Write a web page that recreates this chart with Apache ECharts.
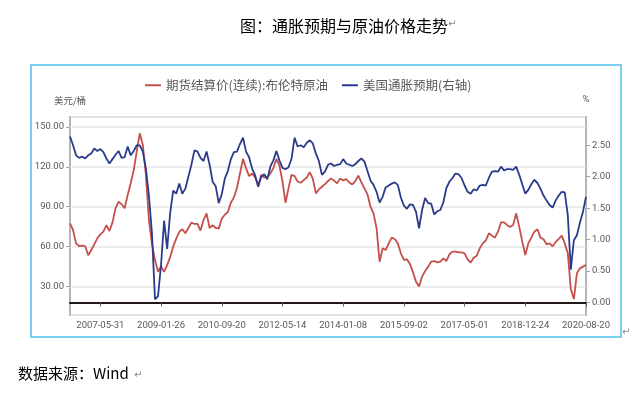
<!DOCTYPE html>
<html>
<head>
<meta charset="utf-8">
<title>通胀预期与原油价格走势</title>
<script src="https://cdn.jsdelivr.net/npm/echarts@6/dist/echarts.min.js"></script>
<style>
    html, body { margin: 0; padding: 0; background: #fff; }
    #main { width: 636px; height: 396px; }
</style>
</head>
<body>
<div id="main"></div>
<script>
// x轴标签：每20个采样点一个，第一个在第10个点
var xLabels = ['2007-05-31', '2009-01-26', '2010-09-20', '2012-05-14', '2014-01-08',
    '2015-09-02', '2017-05-01', '2018-12-24', '2020-08-20'];

// 期货结算价(连续):布伦特原油（美元/桶，左轴）
var brent = [
    77.5, 72.5, 62.4, 60.4, 60.7, 60.4, 53.5, 57.4, 61.7, 66.2,
    69.2, 71.2, 76.2, 71.7, 78.2, 88.8, 93.8, 91.8, 88.8, 98.8,
    107.6, 117.6, 131.9, 145.2, 136.4, 113.9, 80, 62, 50, 41,
    45, 41, 46, 52, 60, 66, 71, 73, 70, 74,
    78, 77, 77, 72, 80, 85, 74, 76, 74, 73.5,
    81, 84, 86, 93, 97, 104, 115, 126, 119, 113,
    115, 112, 106, 114, 112, 112, 115, 119, 126, 121,
    109, 93, 104, 114, 113, 109, 108, 110, 112, 116,
    111, 100, 103, 105, 107, 109.3, 111.3, 109.6, 107.6, 111.3,
    109.8, 110.8, 108.3, 106.8, 109.3, 113.4, 108.3, 103.8, 99.3, 90,
    85, 73.7, 48.6, 58.7, 57.4, 62.4, 66.7, 65.7, 62.4, 54.9,
    49.9, 50.4, 46.9, 40.6, 33.6, 30, 37.4, 41.6, 44.9, 48.6,
    49.1, 48.1, 48.6, 51.1, 49.1, 54.2, 56.2, 56.2, 55.7, 55.7,
    54.9, 50.4, 47.9, 51.6, 53.1, 58.7, 62.4, 64.7, 70, 68.2,
    66.7, 71.2, 78.2, 78.2, 76.2, 74.7, 76.2, 85, 75, 63.7,
    53.7, 62.4, 66.7, 71.2, 73, 66.7, 65.5, 61.7, 62.4, 60.2,
    63.4, 65.7, 68.2, 62.4, 54.9, 28, 20.5, 39.9, 43.6, 44.9, 46.1
];

// 美国通胀预期（%，右轴）
var breakeven = [
    2.64, 2.50, 2.34, 2.30, 2.32, 2.29, 2.34, 2.37, 2.45, 2.41,
    2.44, 2.39, 2.29, 2.21, 2.28, 2.35, 2.41, 2.30, 2.31, 2.48,
    2.34, 2.41, 2.50, 2.50, 2.40, 2.13, 1.70, 1.10, 0.05, 0.10,
    0.60, 1.30, 0.85, 1.42, 1.78, 1.73, 1.89, 1.73, 1.81, 2.00,
    2.19, 2.42, 2.40, 2.30, 2.25, 2.40, 2.19, 1.92, 1.85, 1.58,
    1.72, 1.97, 2.09, 2.28, 2.39, 2.40, 2.52, 2.62, 2.40, 2.31,
    2.13, 2.02, 1.84, 2.00, 2.04, 1.96, 2.16, 2.26, 2.41, 2.26,
    2.14, 2.12, 2.15, 2.29, 2.62, 2.48, 2.50, 2.47, 2.54, 2.58,
    2.53, 2.37, 2.25, 2.03, 2.08, 2.19, 2.21, 2.17, 2.19, 2.20,
    2.28, 2.21, 2.19, 2.17, 2.20, 2.25, 2.29, 2.24, 2.09, 1.94,
    1.87, 1.76, 1.59, 1.68, 1.83, 1.86, 1.89, 1.91, 1.87, 1.67,
    1.54, 1.49, 1.56, 1.55, 1.44, 1.18, 1.47, 1.66, 1.58, 1.57,
    1.40, 1.45, 1.47, 1.59, 1.82, 1.92, 1.98, 2.05, 2.04, 1.98,
    1.86, 1.76, 1.73, 1.80, 1.78, 1.86, 1.87, 1.86, 1.98, 2.08,
    2.09, 2.08, 2.16, 2.10, 2.12, 2.12, 2.11, 2.16, 2.03, 1.88,
    1.73, 1.79, 1.88, 1.95, 1.90, 1.81, 1.70, 1.62, 1.55, 1.51,
    1.62, 1.70, 1.76, 1.75, 1.39, 0.52, 0.99, 1.07, 1.27, 1.44, 1.68
];

var leftTicks = [30, 60, 90, 120, 150];
var rightTicks = [0, 0.5, 1, 1.5, 2, 2.5];

var labelStep = 20, labelStart = 10;
var categories = [];
for (var i = 0; i < brent.length; i++) {
    categories.push(String(i));
}
// 只在标签对应的采样点显示刻度和标签
function isLabelIndex(idx) {
    return idx >= labelStart && (idx - labelStart) % labelStep === 0;
}

var cjk = '"Noto Sans CJK SC", sans-serif';
var num = 'Roboto, sans-serif';
var grey = '#595959';

var myChart = echarts.init(document.getElementById('main'));
myChart.setOption({
    animation: false,
    backgroundColor: '#fff',
    title: {
        text: '图：通胀预期与原油价格走势',
        left: 235,
        top: 13,
        textStyle: { fontFamily: cjk, fontSize: 16, fontWeight: 'normal', color: '#000' }
    },
    legend: {
        left: 140,
        top: 74,
        icon: 'rect',
        itemWidth: 16,
        itemHeight: 2,
        itemGap: 14,
        textStyle: { fontFamily: cjk, fontSize: 12.5, color: grey },
        data: ['期货结算价(连续):布伦特原油', '美国通胀预期(右轴)']
    },
    grid: {
        left: 70,
        right: 50,
        top: 117,
        bottom: 81,
        containLabel: false,
        outerBoundsMode: 'none',
        show: true,
        backgroundColor: '#fff',
        borderColor: '#e2e2e2',
        borderWidth: 2
    },
    xAxis: {
        type: 'category',
        data: categories,
        boundaryGap: false,
        axisLine: {
            onZero: true,
            onZeroAxisIndex: 1,
            lineStyle: { color: '#231616', width: 2 }
        },
        axisTick: { interval: isLabelIndex, length: 4, lineStyle: { color: grey } },
        axisLabel: {
            interval: isLabelIndex,
            margin: 6,
            color: grey,
            fontFamily: num,
            fontSize: 9.5,
            formatter: function (value, idx) {
                return xLabels[(idx - labelStart) / labelStep] || '';
            }
        },
        splitLine: { show: false }
    },
    yAxis: [{
        type: 'value',
        position: 'left',
        min: 8.5,
        max: 157.5,
        name: '美元/桶',
        nameLocation: 'end',
        nameGap: 12,
        nameTextStyle: { fontFamily: cjk, fontSize: 9.5, color: grey, align: 'center' },
        axisLine: { show: true, lineStyle: { color: '#a6a6a6', width: 1.5 } },
        axisTick: { show: true, customValues: leftTicks, length: 4, lineStyle: { color: '#a6a6a6' } },
        axisLabel: {
            customValues: leftTicks,
            margin: 6,
            color: grey,
            fontFamily: num,
            fontSize: 9.5,
            formatter: function (v) { return v.toFixed(2); }
        },
        splitLine: { show: false }
    }, {
        type: 'value',
        position: 'right',
        min: -0.2,
        max: 2.95,
        name: '%',
        nameLocation: 'end',
        nameGap: 12,
        nameTextStyle: { fontFamily: num, fontSize: 9.5, color: grey, align: 'center' },
        axisLine: { show: true, onZero: false, lineStyle: { color: '#a6a6a6', width: 1.5 } },
        axisTick: { show: true, customValues: rightTicks, length: 4, lineStyle: { color: '#a6a6a6' } },
        axisLabel: {
            customValues: rightTicks,
            margin: 6,
            color: grey,
            fontFamily: num,
            fontSize: 9.5,
            formatter: function (v) { return v.toFixed(2); }
        },
        splitLine: { show: false }
    }],
    series: [{
        name: '期货结算价(连续):布伦特原油',
        type: 'line',
        yAxisIndex: 0,
        data: brent,
        showSymbol: false,
        color: '#c4504c',
        lineStyle: { width: 1.8 },
        z: 3,
        markLine: {
            silent: true,
            z: 1,
            symbol: 'none',
            label: { show: false },
            lineStyle: { color: '#e6e6e6', width: 1.5, type: 'solid' },
            data: leftTicks.map(function (v) { return { yAxis: v }; })
        }
    }, {
        name: '美国通胀预期(右轴)',
        type: 'line',
        yAxisIndex: 1,
        data: breakeven,
        showSymbol: false,
        color: '#2b3b8c',
        lineStyle: { width: 1.8 },
        z: 4
    }],
    graphic: [{
        type: 'rect',
        shape: { x: 31, y: 65, width: 590, height: 272 },
        style: { fill: null, stroke: '#78cff0', lineWidth: 2 },
        z: 0
    }, {
        type: 'text',
        left: 448,
        top: 19,
        style: { text: '↵', fill: '#888', font: '10px "DejaVu Sans"' }
    }, {
        type: 'text',
        left: 134,
        top: 370,
        style: { text: '↵', fill: '#888', font: '10px "DejaVu Sans"' }
    }, {
        type: 'text',
        left: 18,
        top: 366,
        style: { text: '数据来源：Wind', fill: '#000', font: '15px "Noto Sans CJK SC"' }
    }, {
        type: 'text',
        left: 622,
        top: 327,
        style: { text: '↵', fill: '#888', font: '10px "DejaVu Sans"' }
    }]
});
</script>
</body>
</html>
